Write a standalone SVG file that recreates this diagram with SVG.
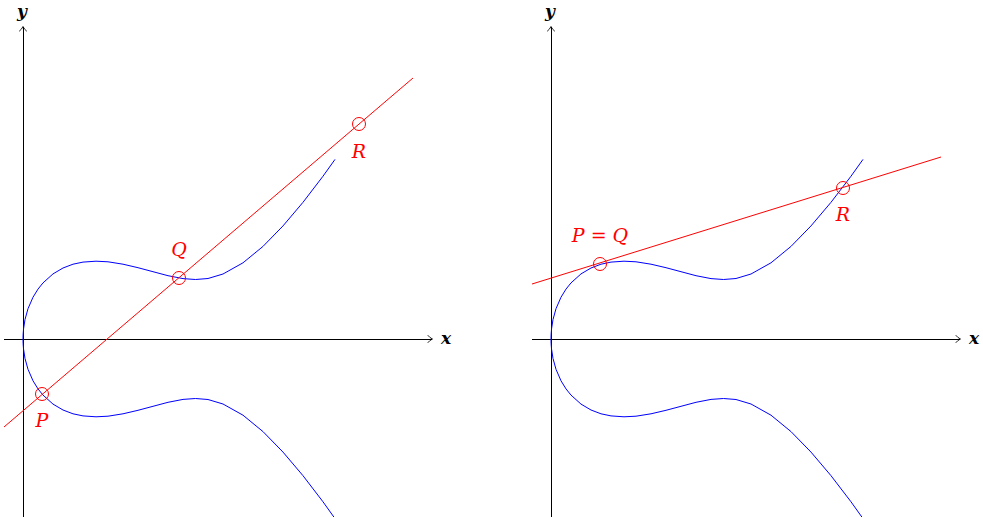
<svg xmlns="http://www.w3.org/2000/svg" xmlns:xlink="http://www.w3.org/1999/xlink" width="983" height="517" viewBox="0 0 983 517">
<style>
.axis{stroke:#000;stroke-width:1;fill:none;shape-rendering:crispEdges}
.arr{stroke:#000;stroke-width:0.9;fill:none;stroke-linecap:round;stroke-linejoin:round}
.curve{stroke:#0000ff;stroke-width:1;fill:none}
.sec{stroke:#ff0000;stroke-width:1;fill:none}
.pt{stroke:#ff0000;stroke-width:1;fill:none}
.lbl{font-family:"DejaVu Serif","Liberation Serif",serif;font-style:italic;font-size:19px;fill:#ff0000;text-anchor:middle}
.ax{font-family:"DejaVu Serif","Liberation Serif",serif;font-style:italic;font-weight:bold;font-size:17px;fill:#000;text-anchor:middle}
</style>
<defs>
<path id="curve" class="curve" d="M335,159.4 L323,176.2 L303,202.3 L283,225.9 L263,246.4 L243,262.8 L223,274 L208,278.5 L195.5,279.5 L183,278.6 L168,275.7 L153,271.7 L138,267.7 L123,264.2 L108,261.8 L96,261.2 L83,262.1 L73,264.2 L63,268 L53,273.9 L43,282.9 L38,289.1 L33,297.2 L28,308.7 L25,319.5 L23.5,329.2 L23.1,334.6 L23,339 L23.1,343.4 L23.5,348.8 L25,358.5 L28,369.3 L33,380.8 L38,388.9 L43,395.1 L53,404.1 L63,410 L73,413.8 L83,415.9 L96,416.8 L108,416.2 L123,413.8 L138,410.3 L153,406.3 L168,402.3 L183,399.4 L195.5,398.5 L208,399.5 L223,404 L243,415.2 L263,431.6 L283,452.1 L303,475.7 L323,501.8 L335,518.6"/>
<g id="axes">
<line class="axis" x1="4" y1="339" x2="432" y2="339"/>
<path class="arr" d="M428,335.5 Q430,338 432.5,339 Q430,340 428,342.5"/>
<line class="axis" x1="23" y1="517" x2="23" y2="27"/>
<path class="arr" d="M19.5,31 Q22,29 23,26.5 Q24,29 26.5,31"/>
</g>
</defs>
<g id="plot1">
<use xlink:href="#axes"/>
<text class="ax" x="446" y="344">x</text>
<text class="ax" x="22" y="17">y</text>
<use xlink:href="#curve"/>
<line class="sec" x1="4" y1="427" x2="413" y2="78"/>
<g id="P1"><circle class="pt" cx="42" cy="394" r="6.5"/><text class="lbl" x="42" y="427">P</text></g>
<g id="Q1"><circle class="pt" cx="179" cy="278" r="6.5"/><text class="lbl" x="179" y="256">Q</text></g>
<g id="R1"><circle class="pt" cx="359" cy="124" r="6.5"/><text class="lbl" x="359" y="158">R</text></g>
</g>
<g id="plot2">
<use xlink:href="#axes" transform="translate(528,0)"/>
<text class="ax" x="974" y="344">x</text>
<text class="ax" x="550" y="17">y</text>
<use xlink:href="#curve" transform="translate(528,0)"/>
<line class="sec" x1="532" y1="284" x2="941" y2="157"/>
<g id="PQ2"><circle class="pt" cx="600" cy="264" r="6.5"/><text class="lbl" x="600" y="242">P = Q</text></g>
<g id="R2"><circle class="pt" cx="843" cy="188" r="6.5"/><text class="lbl" x="843" y="221">R</text></g>
</g>
</svg>
